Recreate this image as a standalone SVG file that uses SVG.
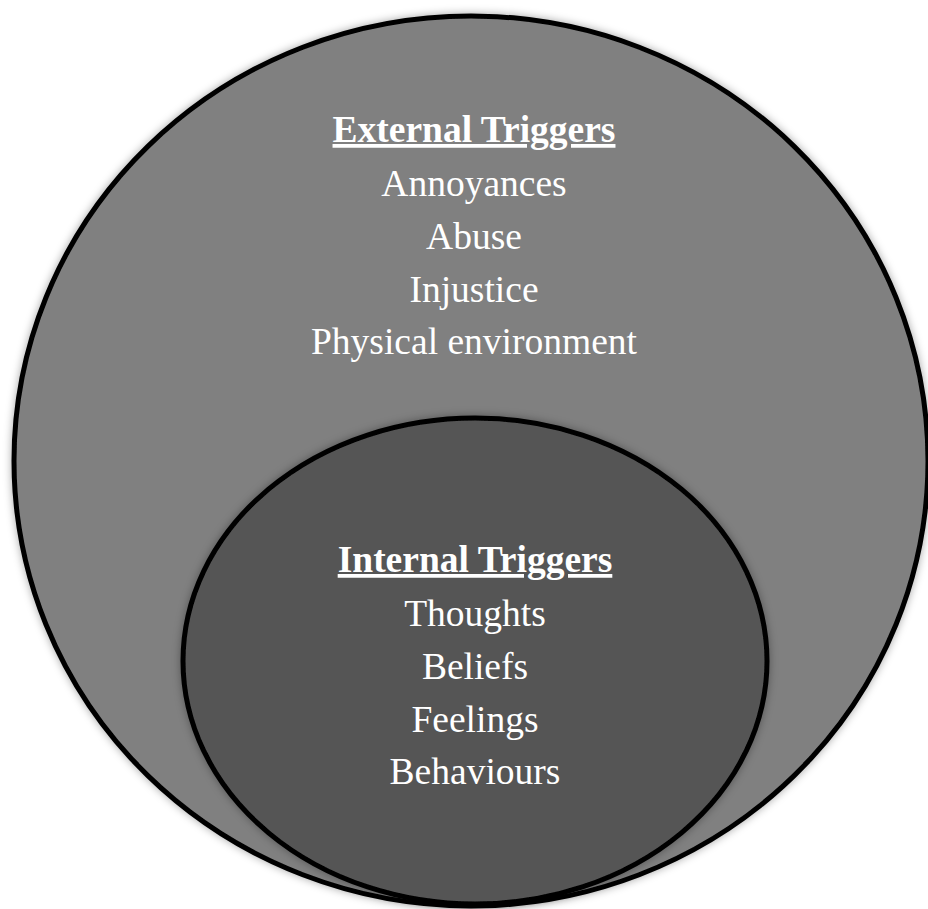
<svg xmlns="http://www.w3.org/2000/svg" width="928" height="909" viewBox="0 0 928 909">
  <defs>
    <filter id="shadow" x="-10%" y="-10%" width="120%" height="120%">
      <feDropShadow dx="0" dy="0" stdDeviation="4" flood-color="#000" flood-opacity="0.35"/>
    </filter>
    <style>
      .ring { stroke: #000; stroke-width: 5; }
      .outer { fill: #808080; }
      .inner { fill: #555555; }
      text { font-family: "Liberation Serif", "Times New Roman", serif; font-size: 37.5px; fill: #fff; text-anchor: middle; }
      .title { font-weight: bold; text-decoration: underline; }
    </style>
  </defs>
  <rect width="928" height="909" fill="#fff"/>
  <g id="external">
    <ellipse class="ring outer" cx="471" cy="461" rx="457" ry="445" filter="url(#shadow)"/>
    <text class="title" x="474" y="142">External Triggers</text>
    <text x="474" y="196">Annoyances</text>
    <text x="474" y="249">Abuse</text>
    <text x="474" y="302">Injustice</text>
    <text x="474" y="354">Physical environment</text>
  </g>
  <g id="internal">
    <ellipse class="ring inner" cx="475" cy="661" rx="292" ry="243" filter="url(#shadow)"/>
    <text class="title" x="475" y="572">Internal Triggers</text>
    <text x="475" y="626">Thoughts</text>
    <text x="475" y="679">Beliefs</text>
    <text x="475" y="732">Feelings</text>
    <text x="475" y="784">Behaviours</text>
  </g>
  <g id="connectors"/>
</svg>
